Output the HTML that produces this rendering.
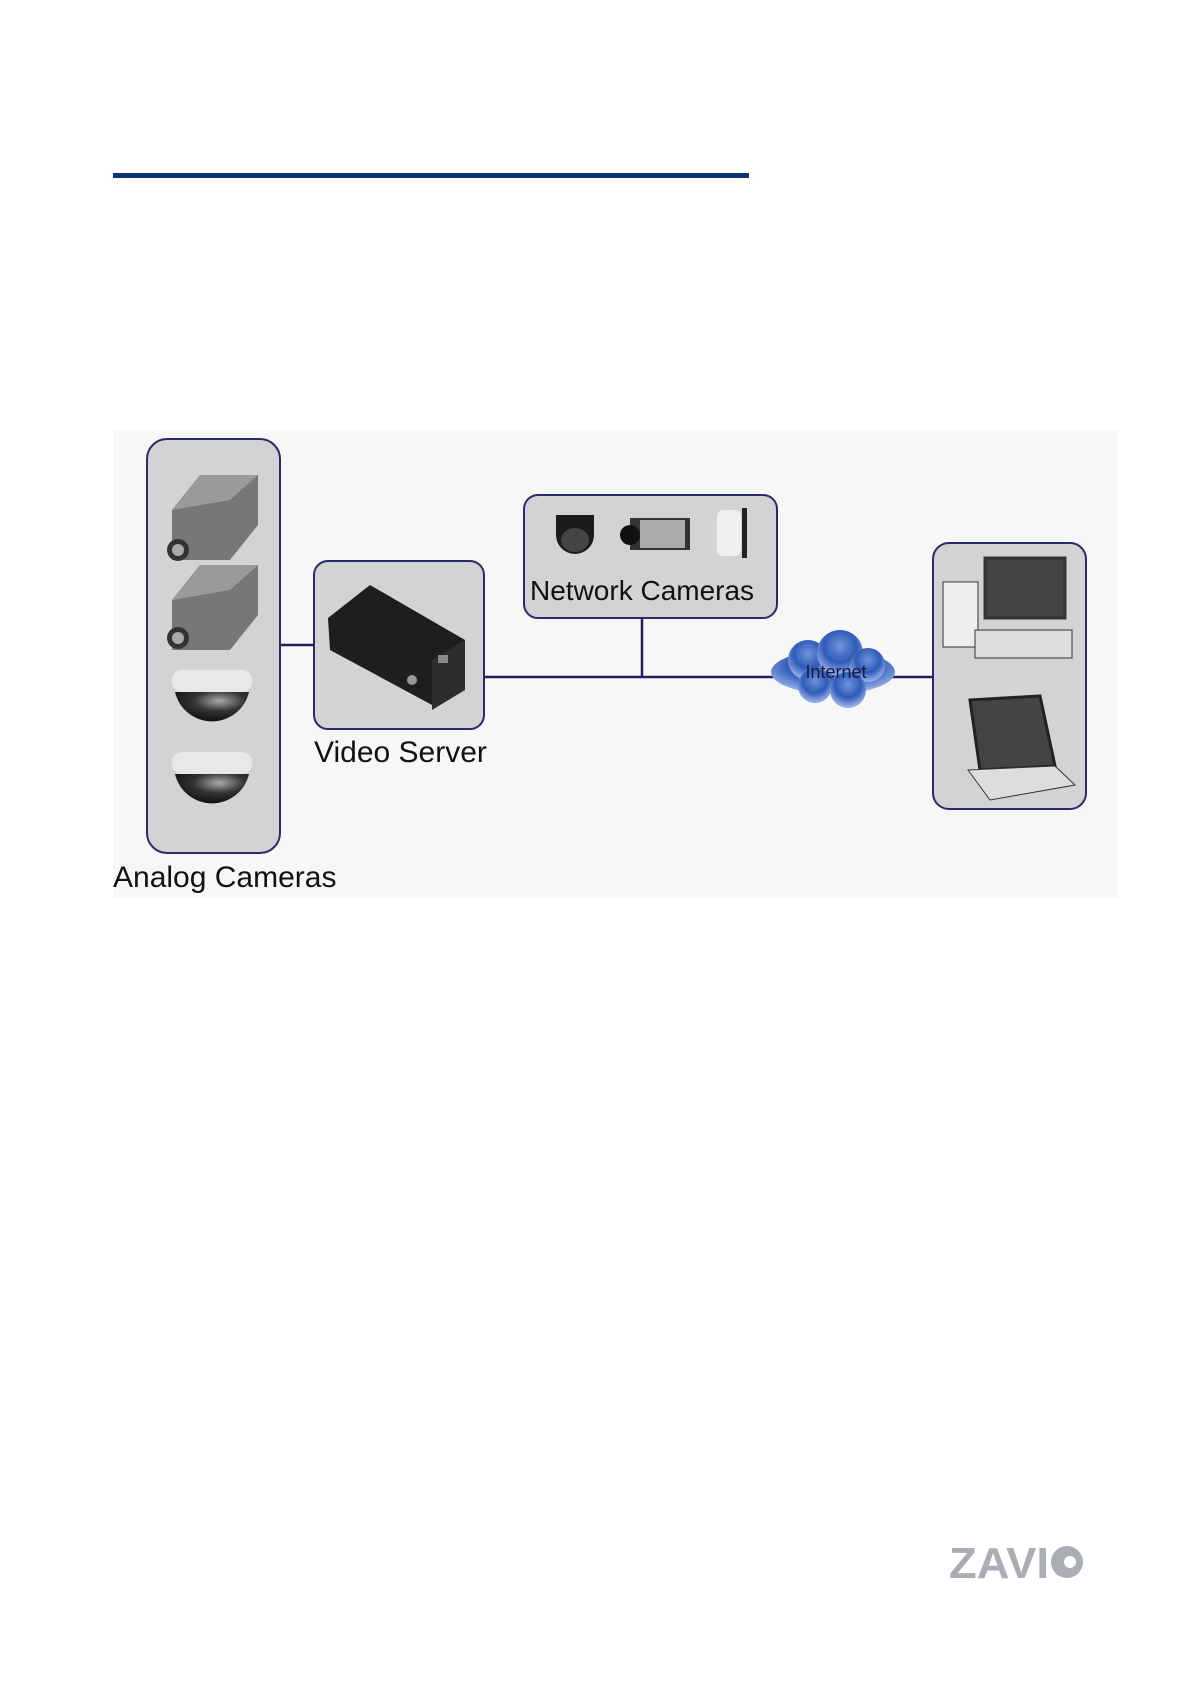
<!DOCTYPE html>
<html><head><meta charset="utf-8"><style>
html,body{margin:0;padding:0;background:#fff;}
body{width:1191px;height:1685px;position:relative;overflow:hidden;font-family:"Liberation Sans",sans-serif;}
</style></head><body>
<div style="position:absolute;left:113px;top:173px;width:636px;height:5px;background:#0d3470"></div>
<svg width="1191" height="1685" style="position:absolute;left:0;top:0">
<defs>
<radialGradient id="cl" cx="50%" cy="35%" r="60%"><stop offset="0" stop-color="#6f93db"/><stop offset="0.6" stop-color="#2f5bb8"/><stop offset="1" stop-color="#8fa8e6"/></radialGradient>
<radialGradient id="dm" cx="60%" cy="30%" r="70%"><stop offset="0" stop-color="#aaa"/><stop offset="0.5" stop-color="#333"/><stop offset="1" stop-color="#111"/></radialGradient>
</defs>
<rect x="113" y="430" width="1005" height="468" fill="#f7f7f7"/>
<g stroke="#1f1f5f" stroke-width="2.5" fill="none">
<line x1="280" y1="645" x2="314" y2="645"/>
<line x1="484" y1="677" x2="933" y2="677"/>
<line x1="642" y1="618" x2="642" y2="677"/>
</g>
<g fill="#d3d3d3" stroke="#2a2a6a" stroke-width="2">
<rect x="147" y="439" width="133" height="414" rx="20"/>
<rect x="314" y="561" width="170" height="168" rx="14"/>
<rect x="524" y="495" width="253" height="123" rx="14"/>
<rect x="933" y="543" width="153" height="266" rx="16"/>
</g>
<g>
<polygon points="172,510 200,475 258,475 258,525 230,560 172,560" fill="#777"/>
<polygon points="200,475 258,475 230,500 172,510" fill="#9a9a9a"/>
<circle cx="178" cy="550" r="11" fill="#333"/><circle cx="178" cy="550" r="6" fill="#aaa"/>
<polygon points="172,600 200,565 258,565 258,615 230,650 172,650" fill="#777"/>
<polygon points="200,565 258,565 230,590 172,600" fill="#9a9a9a"/>
<circle cx="178" cy="638" r="11" fill="#333"/><circle cx="178" cy="638" r="6" fill="#aaa"/>
<rect x="172" y="670" width="80" height="22" rx="10" fill="#e8e8e8"/>
<path d="M175,692 A38,38 0 0 0 249,692 Z" fill="url(#dm)"/>
<rect x="172" y="752" width="80" height="22" rx="10" fill="#e8e8e8"/>
<path d="M175,774 A38,38 0 0 0 249,774 Z" fill="url(#dm)"/>
</g>
<polygon points="328,618 370,585 465,640 432,705 330,650" fill="#1e1e1e"/>
<polygon points="432,660 465,640 465,690 432,710" fill="#2d2d2d"/>
<circle cx="412" cy="680" r="5" fill="#999"/><rect x="438" y="655" width="10" height="8" fill="#888"/>
<path d="M556,515 h38 v20 a19,19 0 0 1 -38,0 z" fill="#1a1a1a"/>
<ellipse cx="575" cy="540" rx="14" ry="12" fill="#444"/>
<rect x="630" y="518" width="60" height="32" fill="#333"/><rect x="640" y="520" width="45" height="28" fill="#aaa"/>
<circle cx="630" cy="535" r="10" fill="#111"/>
<rect x="717" y="510" width="24" height="46" rx="6" fill="#f0f0f0"/><rect x="742" y="508" width="5" height="50" fill="#222"/>
<rect x="943" y="582" width="35" height="65" fill="#eee" stroke="#333"/>
<rect x="985" y="558" width="80" height="60" fill="#444" stroke="#333" stroke-width="3"/>
<rect x="975" y="630" width="97" height="28" fill="#ddd" stroke="#333"/>
<polygon points="980,770 970,700 1040,696 1055,766" fill="#444" stroke="#222" stroke-width="3"/>
<polygon points="968,770 1055,766 1075,785 990,800" fill="#ddd" stroke="#333"/>
<g fill="url(#cl)">
<ellipse cx="833" cy="672" rx="62" ry="22"/>
<circle cx="808" cy="660" r="20"/><circle cx="840" cy="653" r="23"/><circle cx="868" cy="665" r="17"/>
<circle cx="815" cy="686" r="17"/><circle cx="848" cy="690" r="18"/>
</g>
<text x="836" y="678" font-size="18" text-anchor="middle" fill="#1a1a40" font-family="Liberation Sans">Internet</text>
<text x="314" y="762" font-size="30" fill="#111" font-family="Liberation Sans">Video Server</text>
<text x="530" y="600" font-size="28" fill="#111" font-family="Liberation Sans">Network Cameras</text>
<text x="113" y="887" font-size="30" fill="#111" font-family="Liberation Sans">Analog Cameras</text>
<text x="949" y="1578" font-size="44" font-weight="bold" fill="#a9aeb3" font-family="Liberation Sans" textLength="100" lengthAdjust="spacingAndGlyphs">ZAVI</text>
<circle cx="1067" cy="1562" r="16" fill="#a9aeb3"/><circle cx="1070" cy="1562" r="6" fill="#fff"/>
</svg>
</body></html>
